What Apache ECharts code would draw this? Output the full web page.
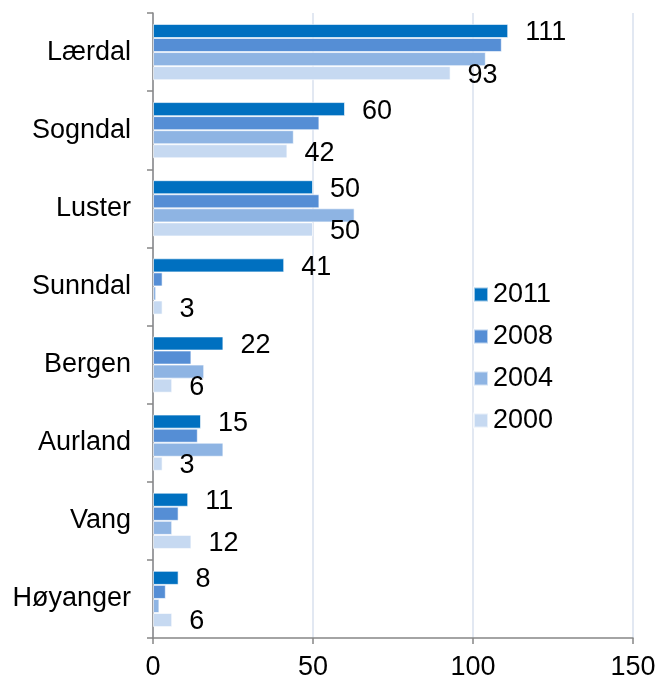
<!DOCTYPE html>
<html>
<head>
<meta charset="utf-8">
<script src="https://cdn.jsdelivr.net/npm/echarts@6/dist/echarts.min.js"></script>
<style>
  html, body { margin: 0; padding: 0; background: #fff; }
  #chart { width: 659px; height: 681px; }
</style>
</head>
<body>
<div id="chart"></div>
<script>
const categories = ['Lærdal', 'Sogndal', 'Luster', 'Sunndal', 'Bergen', 'Aurland', 'Vang', 'Høyanger']
const years = ['2011', '2008', '2004', '2000']
const v2011 = [111, 60, 50, 41, 22, 15, 11, 8]
const v2008 = [109, 52, 52, 3, 12, 14, 8, 4]
const v2004 = [104, 44, 63, 1, 16, 22, 6, 2]
const v2000 = [93, 42, 50, 3, 6, 3, 12, 6]
const xTicks = [0, 50, 100, 150]

const colors = ['#0070C0', '#558ED5', '#8EB4E3', '#C6D9F1']
const font = 'Liberation Sans, Arial, sans-serif'
const fs = 27

// 只有 2011 和 2000 显示数值
const makeSeries = (name, data, color, showLabel) => ({
  name,
  type: 'bar',
  data,
  barGap: '0%',
  barCategoryGap: '28%',
  itemStyle: { color, borderColor: 'rgba(255,255,255,0.6)', borderWidth: 1 },
  label: {
    show: showLabel,
    position: 'right',
    distance: 17,
    offset: [0, 2],
    color: '#000',
    fontSize: fs,
    fontFamily: font
  },
  emphasis: { disabled: true }
})

const chart = echarts.init(document.getElementById('chart'))
chart.setOption({
  animation: false,
  grid: { left: 153, right: 26, top: 13, bottom: 43, containLabel: false },
  legend: {
    orient: 'vertical',
    left: 468,
    top: 276,
    itemWidth: 14,
    itemHeight: 14,
    itemGap: 15,
    icon: 'rect',
    textStyle: { fontSize: fs, fontFamily: font, color: '#000' },
    data: years
  },
  xAxis: {
    type: 'value',
    min: xTicks[0],
    max: xTicks[xTicks.length - 1],
    interval: 50,
    axisLine: { show: true, lineStyle: { color: '#868686', width: 1.5 } },
    axisTick: { show: true, length: 6, lineStyle: { color: '#868686', width: 1.5 } },
    splitLine: { show: true, lineStyle: { color: '#D9E1EE', width: 1.5 } },
    axisLabel: { fontSize: fs, fontFamily: font, color: '#000', margin: 16 }
  },
  yAxis: {
    type: 'category',
    inverse: true,
    data: categories,
    axisLine: { show: true, lineStyle: { color: '#868686', width: 1.5 } },
    axisTick: { show: true, length: 6, alignWithLabel: false, lineStyle: { color: '#868686', width: 1.5 } },
    axisLabel: { fontSize: fs, fontFamily: font, color: '#000', margin: 22 }
  },
  series: [
    makeSeries(years[0], v2011, colors[0], true),
    makeSeries(years[1], v2008, colors[1], false),
    makeSeries(years[2], v2004, colors[2], false),
    makeSeries(years[3], v2000, colors[3], true)
  ]
})
</script>
</body>
</html>
